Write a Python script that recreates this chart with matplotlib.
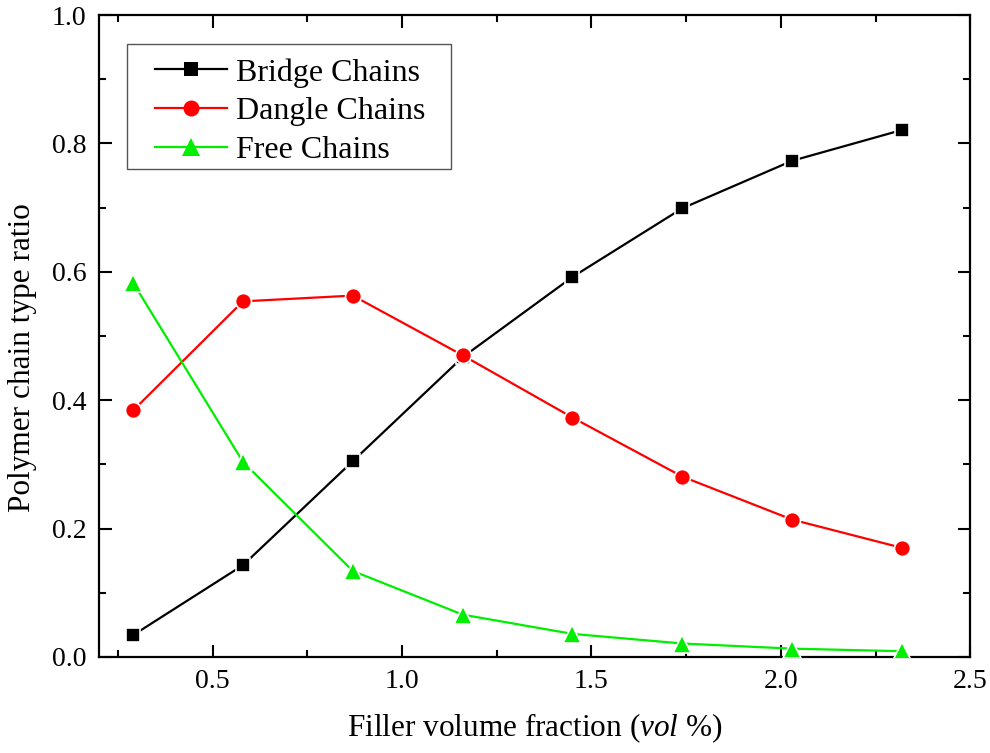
import matplotlib
matplotlib.use("Agg")
import matplotlib.pyplot as plt
from matplotlib.patches import Rectangle
from matplotlib.ticker import MultipleLocator, FormatStrFormatter

plt.rcParams['font.family'] = ['Liberation Serif', 'DejaVu Serif']
plt.rcParams['mathtext.fontset'] = 'custom'
plt.rcParams['mathtext.it'] = 'Liberation Serif:italic'
plt.rcParams['mathtext.rm'] = 'Liberation Serif'

# Filler volume fraction (vol %)
volume_fraction = [0.29, 0.58, 0.87, 1.16, 1.45, 1.74, 2.03, 2.32]

# Chain type ratios
bridge_chains = [0.034, 0.143, 0.305, 0.467, 0.592, 0.699, 0.773, 0.821]
dangle_chains = [0.384, 0.554, 0.563, 0.470, 0.373, 0.281, 0.214, 0.170]
free_chains = [0.583, 0.304, 0.134, 0.066, 0.036, 0.021, 0.013, 0.009]

series_labels = ["Bridge Chains", "Dangle Chains", "Free Chains"]

W, H = 990, 753
fig = plt.figure(figsize=(W / 100, H / 100), dpi=100)
ax = fig.add_axes([0.1, 0.1275, 0.88, 0.8525])

styles = [
    (bridge_chains, "#000000", "s", 10.5),
    (dangle_chains, "#ff0000", "o", 11.5),
    (free_chains, "#00ee00", "^", 12.5),
]
for (values, color, marker, ms), label in zip(styles, series_labels):
    ax.plot(volume_fraction, values, color=color, lw=1.6, marker=marker,
            markersize=ms, markerfacecolor=color, markeredgecolor="white",
            markeredgewidth=1.2, label=label, zorder=3)

ax.set_xlim(0.2, 2.5)
ax.set_ylim(0.0, 1.0)
ax.xaxis.set_major_locator(MultipleLocator(0.5))
ax.xaxis.set_minor_locator(MultipleLocator(0.25))
ax.yaxis.set_major_locator(MultipleLocator(0.2))
ax.yaxis.set_minor_locator(MultipleLocator(0.1))
ax.xaxis.set_major_formatter(FormatStrFormatter('%.1f'))
ax.yaxis.set_major_formatter(FormatStrFormatter('%.1f'))

ax.tick_params(which="both", direction="in", top=True, right=True, width=1.5,
               labelsize=20)
ax.tick_params(which="major", length=9, pad=9)
ax.tick_params(which="minor", length=5)
for s in ax.spines.values():
    s.set_linewidth(1.6)

ax.set_xlabel(r"Filler volume fraction ($\mathit{vol\ \%}$)", fontsize=22.5,
              labelpad=12)
ax.set_ylabel("Polymer chain type ratio", fontsize=22.5)
ax.yaxis.set_label_coords(-0.071, 0.467)

# Legend content without its own frame; a wider box is drawn around it
leg = ax.legend(loc="upper left", bbox_to_anchor=(155 / W, 1 - 58 / H),
                bbox_transform=fig.transFigure, fontsize=23, frameon=False,
                handlelength=2.25, handletextpad=0.3, borderpad=0.0,
                labelspacing=0.3, borderaxespad=0.0)
for h in leg.legend_handles:
    h.set_markeredgewidth(0)

fig.canvas.draw()
bb = leg.get_window_extent()
pad_l, pad_r, pad_t, pad_b = 28, 25, 14, 4
frame = Rectangle(((bb.x0 - pad_l) / W, (bb.y0 - pad_b) / H),
                  (bb.width + pad_l + pad_r) / W,
                  (bb.height + pad_t + pad_b) / H,
                  transform=fig.transFigure, facecolor="white",
                  edgecolor="#555555", linewidth=1.0, zorder=4)
ax.add_artist(frame)
leg.set_zorder(5)

fig.savefig("out.png", dpi=100)
